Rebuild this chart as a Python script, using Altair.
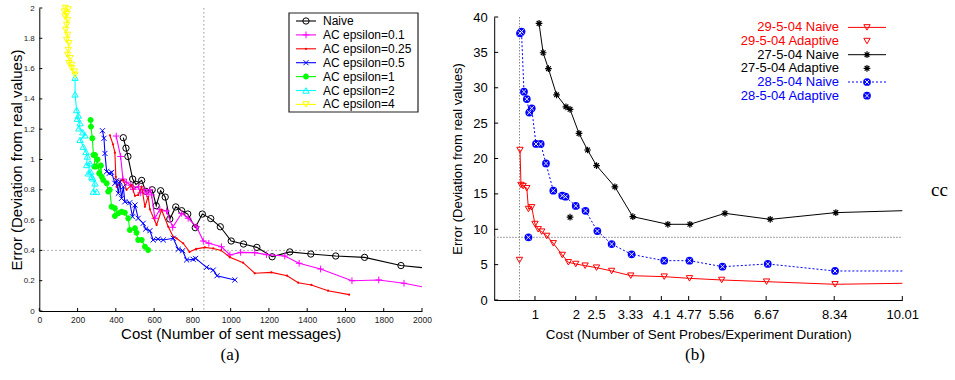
import altair as alt
import pandas as pd

# ================= panel (a) data =================
left_xticks = [0, 200, 400, 600, 800, 1000, 1200, 1400, 1600, 1800, 2000]
left_yticks = [0, 0.2, 0.4, 0.6, 0.8, 1.0, 1.2, 1.4, 1.6, 1.8, 2.0]
left_ref_x = [860]
left_ref_y = [0.4]
left_xtitle = "Cost (Number of sent messages)"
left_ytitle = "Error (Deviation from real values)"

naive_x = [439, 453, 463, 488, 505, 535, 556, 590, 611, 634, 658, 682, 713, 744, 776, 815,
           852, 896, 946, 1003, 1067, 1137, 1217, 1309, 1419, 1549, 1700, 1890, 2000]
naive_y = [1.144, 1.075, 1.02, 0.871, 0.836, 0.862, 0.79, 0.80, 0.695, 0.794, 0.752, 0.607,
           0.687, 0.662, 0.64, 0.55, 0.64, 0.61, 0.556, 0.462, 0.442, 0.42, 0.358, 0.39,
           0.376, 0.363, 0.354, 0.30, 0.286]

eps01_x = [402, 425, 437, 455, 478, 491, 517, 530, 548, 561, 578, 587, 604, 630, 665, 697,
           744, 778, 822, 857, 886, 952, 996, 1052, 1126, 1187, 1283, 1358, 1470, 1634, 1774,
           1906, 2000]
eps01_y = [1.155, 1.02, 0.871, 0.85, 0.83, 0.803, 0.82, 0.78, 0.80, 0.772, 0.80, 0.766, 0.612,
           0.671, 0.66, 0.552, 0.645, 0.612, 0.556, 0.462, 0.447, 0.424, 0.37, 0.387, 0.385,
           0.372, 0.363, 0.315, 0.277, 0.20, 0.205, 0.183, 0.16]

eps025_x = [369, 385, 395, 400, 404, 413, 425, 439, 456, 482, 500, 517, 535, 552, 569, 578,
            613, 639, 674, 700, 717, 752, 785, 820, 865, 909, 950, 996, 1065, 1126, 1213,
            1295, 1353, 1422, 1509, 1619]
eps025_y = [1.16, 1.10, 1.045, 0.886, 0.82, 0.832, 0.86, 0.865, 0.80, 0.832, 0.76, 0.766,
            0.82, 0.688, 0.755, 0.671, 0.568, 0.667, 0.556, 0.49, 0.48, 0.447, 0.39, 0.41,
            0.42, 0.413, 0.40, 0.355, 0.319, 0.249, 0.255, 0.233, 0.187, 0.172, 0.134, 0.108]

eps05_x = [330, 338, 343, 352, 366, 378, 395, 404, 413, 421, 430, 439, 447, 473, 487, 500,
           517, 543, 556, 578, 595, 621, 648, 700, 726, 749, 770, 804, 817, 874, 909, 929, 1022]
eps05_y = [1.19, 1.14, 1.04, 0.92, 0.909, 0.915, 0.843, 0.86, 0.777, 0.853, 0.744, 0.82,
           0.721, 0.715, 0.622, 0.70, 0.612, 0.579, 0.541, 0.53, 0.469, 0.475, 0.469, 0.48,
           0.407, 0.398, 0.337, 0.341, 0.347, 0.288, 0.27, 0.233, 0.205]

eps1_x = [268, 270, 277, 283, 291, 287, 296, 304, 313, 322, 326, 334, 352, 360, 368, 378,
          395, 395, 413, 430, 447, 465, 473, 500, 508, 517, 535, 552, 569]
eps1_y = [1.26, 1.217, 1.14, 1.03, 1.03, 0.953, 0.953, 1.0, 0.909, 0.96, 0.887, 0.865, 0.843,
          0.788, 0.80, 0.688, 0.678, 0.627, 0.645, 0.655, 0.649, 0.612, 0.535, 0.546, 0.517,
          0.469, 0.469, 0.424, 0.403]

eps2_x = [187, 187, 195, 204, 199, 213, 207, 227, 239, 213, 230, 244, 251, 247, 265, 256,
          268, 274, 279, 291, 282, 300]
eps2_y = [1.54, 1.43, 1.327, 1.29, 1.27, 1.24, 1.206, 1.18, 1.16, 1.13, 1.085, 1.05, 1.02,
          0.964, 0.975, 0.909, 0.92, 0.887, 0.876, 0.843, 0.788, 0.788]

eps4_x = [135, 150, 131, 145, 134, 148, 143, 138, 148, 143, 155, 151, 148, 160, 155, 169,
          169, 183, 187]
eps4_y = [2.0, 1.99, 1.976, 1.96, 1.943, 1.92, 1.888, 1.855, 1.822, 1.789, 1.767, 1.723,
          1.69, 1.668, 1.635, 1.624, 1.602, 1.58, 1.558]

left_names = ["Naive", "AC epsilon=0.1", "AC epsilon=0.25", "AC epsilon=0.5",
              "AC epsilon=1", "AC epsilon=2", "AC epsilon=4"]

# ================= panel (b) data =================
right_xticks = [1, 2, 2.5, 3.33, 4.1, 4.77, 5.56, 6.67, 8.34, 10.01]
right_yticks = [0, 5, 10, 15, 20, 25, 30, 35, 40]
right_ref_x = [0.62]
right_ref_y = [8.86]
right_xtitle = "Cost (Number of Sent Probes/Experiment Duration)"
right_ytitle = "Error (Deviation from real values)"

n29_x = [0.633, 0.657, 0.71, 0.80, 0.84, 0.92, 1.0, 1.08, 1.165, 1.29, 1.45, 1.67, 1.82,
         2.0, 2.23, 2.51, 2.88, 3.35, 4.17, 4.79, 5.58, 6.68, 8.36, 10.01]
n29_y = [21.2, 16.25, 16.1, 15.8, 12.86, 13.1, 10.74, 9.99, 9.66, 9.05, 8.01, 6.36, 5.33,
         5.09, 4.85, 4.57, 4.1, 3.44, 3.30, 3.06, 2.83, 2.59, 2.22, 2.36]
a29_x = [0.62]
a29_y = [5.65]

n27_x = [1.10, 1.20, 1.33, 1.53, 1.76, 1.86, 2.08, 2.29, 2.51, 2.96, 3.40, 4.26, 4.80,
         5.66, 6.77, 8.38, 10.01]
n27_y = [39.1, 34.95, 32.7, 29.0, 27.3, 26.95, 23.55, 21.2, 19.0, 16.0, 11.78, 10.7, 10.7,
         12.25, 11.4, 12.35, 12.62]
a27_x = [1.86]
a27_y = [11.7]

n28_x = [0.633, 0.67, 0.73, 0.80, 0.86, 0.92, 1.025, 1.14, 1.27, 1.45, 1.67, 1.75, 2.0,
         2.24, 2.53, 2.88, 3.37, 4.17, 4.79, 5.6, 6.71, 8.36, 10.01]
n28_y = [37.7, 37.95, 29.45, 28.4, 26.5, 27.1, 22.05, 22.05, 19.3, 15.45, 14.75, 14.6, 13.3,
         12.6, 9.75, 7.9, 6.45, 5.56, 5.56, 4.71, 5.09, 4.1, 4.1]
a28_x = [0.84]
a28_y = [8.86]

right_names = ["29-5-04 Naive", "29-5-04 Adaptive", "27-5-04 Naive", "27-5-04 Adaptive",
               "28-5-04 Naive", "28-5-04 Adaptive"]

panel_labels = ["(a)", "(b)"]
side_note = "cc"

# ================= layout / style =================
W, H = 955, 380
SANS = "Liberation Sans"
SERIF = "Liberation Serif"
LX0, LX1, LY0, LY1 = 39.3, 422.0, 311.0, 8.0
RX0, RX1, RY0, RY1 = 494.2, 902.3, 300.0, 17.0

PLUS = "M-1,0L1,0M0,-1L0,1"
CROSS = "M-1,-1L1,1M-1,1L1,-1"
ASTER = "M-1,0L1,0M0,-1L0,1M-0.7,-0.7L0.7,0.7M-0.7,0.7L0.7,-0.7"


def mk(kind, color):
    if kind == "circle":
        return [dict(shape="circle", filled=False, size=40, color=color, strokeWidth=1)]
    if kind == "plus":
        return [dict(shape=PLUS, filled=False, size=45, color=color, strokeWidth=1)]
    if kind == "dot":
        return [dict(shape="circle", filled=True, size=5, color=color)]
    if kind == "cross":
        return [dict(shape=CROSS, filled=False, size=26, color=color, strokeWidth=1)]
    if kind == "aster":
        return [dict(shape=ASTER, filled=False, size=36, color=color, strokeWidth=1.8)]
    if kind == "aster_thin":
        return [dict(shape=ASTER, filled=False, size=45, color=color, strokeWidth=1.2)]
    if kind == "tri_up":
        return [dict(shape="triangle-up", filled=False, size=40, color=color, strokeWidth=1)]
    if kind == "tri_down":
        return [dict(shape="triangle-down", filled=False, size=40, color=color, strokeWidth=1)]
    if kind == "ball":
        return [dict(shape="circle", filled=True, size=60, color=color),
                dict(shape=CROSS, filled=False, size=18, color="white", strokeWidth=0.9)]
    return []


def frame(xs, ys):
    return pd.DataFrame({"x": xs, "y": ys, "i": list(range(len(xs)))})


def series(X, Y, xs, ys, color, kind, dash=None, width=1.0, line=True, end_plain=False):
    df = frame(xs, ys)
    out = []
    if line:
        kw = dict(color=color, strokeWidth=width)
        if dash:
            kw["strokeDash"] = dash
        out.append(alt.Chart(df).mark_line(**kw).encode(x=X, y=Y, order="i:Q"))
    mdf = df.iloc[:-1] if end_plain else df
    for m in mk(kind, color):
        out.append(alt.Chart(mdf).mark_point(opacity=1, **m).encode(x=X, y=Y))
    return out


one = pd.DataFrame({"k": [0]})

# ---------- panel (a) encodings ----------
LX = alt.X("x:Q", scale=alt.Scale(domain=[0, 2000], range=[LX0, LX1], nice=False, zero=False),
           axis=alt.Axis(orient="bottom", offset=LY0 - H, values=left_xticks,
                         labelExpr="format(datum.value, 'd')",
                         tickSize=0, labelPadding=4, labelFontSize=8.5, labelFont=SANS,
                         labelColor="#222", labelFlush=False, labelOverlap=False,
                         title=left_xtitle, titleFont=SANS, titleFontSize=15,
                         titleFontWeight="normal", titleColor="black",
                         titleX=(LX0 + LX1) / 2, titleY=27.3, titleBaseline="alphabetic",
                         domainColor="black", domainWidth=1, grid=False))
LY = alt.Y("y:Q", scale=alt.Scale(domain=[0, 2], range=[LY0, LY1], nice=False, zero=False),
           axis=alt.Axis(orient="left", offset=-LX0, values=left_yticks,
                         labelExpr="format(datum.value, '.2~g')",
                         tickSize=0, labelPadding=5, labelFontSize=8, labelFont=SANS,
                         labelColor="#222", labelFlush=False, labelOverlap=False,
                         title=left_ytitle, titleFont=SANS, titleFontSize=15,
                         titleFontWeight="normal", titleColor="black", titleAngle=-90,
                         titleX=-18, titleY=(LY0 + LY1) / 2, titleBaseline="alphabetic",
                         domainColor="black", domainWidth=1, grid=False))

left_specs = [
    (naive_x, naive_y, "black", "circle", True),
    (eps01_x, eps01_y, "#ff00ff", "plus", True),
    (eps025_x, eps025_y, "#ff0000", "dot", False),
    (eps05_x, eps05_y, "#0000ff", "cross", False),
    (eps1_x, eps1_y, "#00ff00", "aster", False),
    (eps2_x, eps2_y, "#00ffff", "tri_up", False),
    (eps4_x, eps4_y, "#ffff00", "tri_down", False),
]

left_layers = [
    alt.Chart(pd.DataFrame({"x": left_ref_x})).mark_rule(color="#999", strokeDash=[1.5, 2.5], strokeWidth=1)
    .encode(x=LX, y=alt.value(LY1), y2=alt.value(LY0)),
    alt.Chart(pd.DataFrame({"y": left_ref_y})).mark_rule(color="#999", strokeDash=[1.5, 2.5], strokeWidth=1)
    .encode(y=LY, x=alt.value(LX0), x2=alt.value(LX1)),
    alt.Chart(pd.DataFrame({"x": left_xticks})).mark_rule(color="black", strokeWidth=1)
    .encode(x=LX, y=alt.value(LY0), y2=alt.value(LY0 - 3)),
    alt.Chart(pd.DataFrame({"y": left_yticks})).mark_rule(color="black", strokeWidth=1)
    .encode(y=LY, x=alt.value(LX0), x2=alt.value(LX0 + 3)),
]
for xs, ys, col, kind, endp in left_specs:
    left_layers += series(LX, LY, xs, ys, col, kind, width=1.1, end_plain=endp)

# ---------- panel (b) encodings ----------
RX = alt.X("x:Q", scale=alt.Scale(domain=[0, 10.01], range=[RX0, RX1], nice=False, zero=False),
           axis=alt.Axis(orient="bottom", offset=RY0 - H, values=right_xticks,
                         labelExpr="format(datum.value, '.4~g')",
                         tickSize=0, labelPadding=8, labelFontSize=13, labelFont=SANS,
                         labelColor="black", labelFlush=False, labelOverlap=False,
                         title=right_xtitle, titleFont=SANS, titleFontSize=13.4,
                         titleFontWeight="normal", titleColor="black",
                         titleX=(RX0 + RX1) / 2, titleY=38, titleBaseline="alphabetic",
                         domainColor="black", domainWidth=1, grid=False))
RY = alt.Y("y:Q", scale=alt.Scale(domain=[0, 40], range=[RY0, RY1], nice=False, zero=False),
           axis=alt.Axis(orient="left", offset=-RX0, values=right_yticks,
                         labelExpr="format(datum.value, 'd')",
                         tickSize=0, labelPadding=7, labelFontSize=13, labelFont=SANS,
                         labelColor="black", labelFlush=False, labelOverlap=False,
                         title=right_ytitle, titleFont=SANS, titleFontSize=13,
                         titleFontWeight="normal", titleColor="black", titleAngle=-90,
                         titleX=-32.5, titleY=(RY0 + RY1) / 2, titleBaseline="alphabetic",
                         domainColor="black", domainWidth=1, grid=False))

right_layers = [
    alt.Chart(pd.DataFrame({"x": right_ref_x})).mark_rule(color="#888", strokeDash=[1.5, 1.5], strokeWidth=1)
    .encode(x=RX, y=alt.value(RY1), y2=alt.value(RY0)),
    alt.Chart(pd.DataFrame({"y": right_ref_y})).mark_rule(color="#888", strokeDash=[1.5, 1.5], strokeWidth=1)
    .encode(y=RY, x=alt.value(RX0), x2=alt.value(RX1)),
    alt.Chart(pd.DataFrame({"x": right_xticks})).mark_rule(color="black", strokeWidth=1)
    .encode(x=RX, y=alt.value(RY0), y2=alt.value(RY0 - 4)),
    alt.Chart(pd.DataFrame({"y": right_yticks})).mark_rule(color="black", strokeWidth=1)
    .encode(y=RY, x=alt.value(RX0), x2=alt.value(RX0 + 4)),
]
right_specs = [
    (n29_x, n29_y, "#ff0000", "tri_down", None, True, True),
    (a29_x, a29_y, "#ff0000", "tri_down", None, False, False),
    (n27_x, n27_y, "black", "aster_thin", None, True, True),
    (a27_x, a27_y, "black", "aster_thin", None, False, False),
    (n28_x, n28_y, "#0000ff", "ball", [2, 2], True, True),
    (a28_x, a28_y, "#0000ff", "ball", None, False, False),
]
for xs, ys, col, kind, dash, ln, endp in right_specs:
    right_layers += series(RX, RY, xs, ys, col, kind, dash=dash, width=1.0, line=ln, end_plain=endp)

# ---------- annotations: legends and labels ----------
annot = [
    alt.Chart(one).mark_rect(fill="white", stroke="#222", strokeWidth=1.2)
    .encode(x=alt.value(289), x2=alt.value(418), y=alt.value(13), y2=alt.value(112)),
]
for i, (name, spec) in enumerate(zip(left_names, left_specs)):
    py = 21 + i * 13.9
    col, kind = spec[2], spec[3]
    annot.append(alt.Chart(one).mark_rule(color=col, strokeWidth=1.1)
                 .encode(x=alt.value(296), x2=alt.value(316), y=alt.value(py)))
    for m in mk(kind, col):
        annot.append(alt.Chart(one).mark_point(opacity=1, **m)
                     .encode(x=alt.value(306), y=alt.value(py)))
    annot.append(alt.Chart(pd.DataFrame({"t": [name]}))
                 .mark_text(align="left", baseline="middle", font=SANS, fontSize=12, color="black")
                 .encode(x=alt.value(323), y=alt.value(py), text="t:N"))

for i, (name, spec) in enumerate(zip(right_names, right_specs)):
    py = 27.4 + i * 13.65
    col, kind, dash, ln = spec[2], spec[3], spec[4], spec[5]
    if ln:
        kw = dict(color=col, strokeWidth=1)
        if dash:
            kw["strokeDash"] = dash
        annot.append(alt.Chart(one).mark_rule(**kw)
                     .encode(x=alt.value(848), x2=alt.value(886), y=alt.value(py)))
    for m in mk(kind, col):
        annot.append(alt.Chart(one).mark_point(opacity=1, **m)
                     .encode(x=alt.value(867), y=alt.value(py)))
    annot.append(alt.Chart(pd.DataFrame({"t": [name]}))
                 .mark_text(align="right", baseline="middle", font=SANS, fontSize=13, color=col)
                 .encode(x=alt.value(839), y=alt.value(py), text="t:N"))

for lab, cx in zip(panel_labels, [230, 695]):
    annot.append(alt.Chart(pd.DataFrame({"t": [lab]}))
                 .mark_text(align="center", baseline="middle", font=SERIF, fontSize=17, color="black")
                 .encode(x=alt.value(cx), y=alt.value(355), text="t:N"))
annot.append(alt.Chart(pd.DataFrame({"t": [side_note]}))
             .mark_text(align="center", baseline="middle", font=SERIF, fontSize=19, color="black")
             .encode(x=alt.value(939.5), y=alt.value(190), text="t:N"))

left = alt.layer(*left_layers)
right = alt.layer(*right_layers)
notes = alt.layer(*annot)

chart = (
    alt.layer(left, right, notes)
    .resolve_scale(x="independent", y="independent")
    .properties(width=W, height=H, padding=0, autosize=alt.AutoSizeParams(type="none"),
                background="white")
    .configure_view(stroke=None)
)

chart.save("out.html", embed_options={"renderer": "svg", "actions": False})
